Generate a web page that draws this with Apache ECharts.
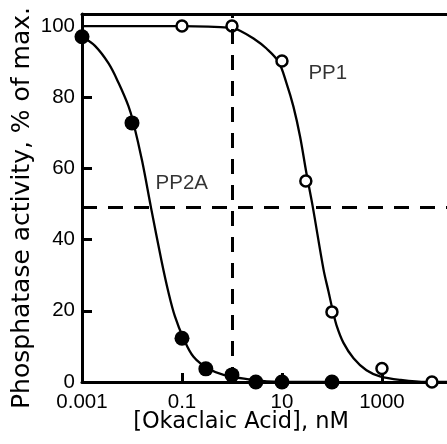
<!DOCTYPE html>
<html>
<head>
<meta charset="utf-8">
<script src="https://cdn.jsdelivr.net/npm/echarts@6/dist/echarts.min.js"></script>
<style>html,body{margin:0;padding:0;background:#fff}#c{width:447px;height:444px}</style>
</head>
<body>
<div id="c"></div>
<script>
// Measured points
const pp2aConc = [0.001, 0.01, 0.1, 0.3, 1, 3, 10, 100];
const pp2aAct  = [97, 72.8, 12.3, 3.7, 2.0, 0, 0, 0];
const pp1Conc  = [0.1, 1, 10, 30, 100, 1000, 10000];
const pp1Act   = [100, 100, 90.2, 56.5, 19.7, 3.8, 0];
// Fitted curves
const pp2aFitConc = [0.001, 0.0018, 0.0034, 0.0054, 0.0085, 0.0107, 0.016, 0.024, 0.039, 0.054, 0.072, 0.107, 0.17, 0.34, 0.68, 2, 5, 20, 100];
const pp2aFitAct  = [97, 94.5, 89.5, 84, 77.5, 72.8, 62, 49, 34, 25, 18.5, 12.3, 7.1, 3.7, 2.0, 0.8, 0.2, 0, 0];
const pp1FitConc  = [0.001, 0.1, 1, 1.45, 2.7, 4.9, 8.5, 12.3, 17, 23, 31, 41, 68, 85, 102, 123, 170, 270, 490, 910, 2300, 7800, 20000];
const pp1FitAct   = [100, 100, 99.5, 98.7, 96.5, 93.7, 90, 84, 77.3, 69, 58.5, 49.5, 31.5, 25.5, 20.5, 16, 11, 6.7, 3.3, 1.6, 0.6, 0, 0];
// Reference lines
const halfActivity = 49;
const markConc = 1;
// Curve labels
const curveNames = ['PP2A', 'PP1'];
const curveNameConc = [0.029, 33];
const curveNameAct = [55.9, 86.7];
// Axis ticks
const xTickValues = [0.001, 0.1, 10, 1000];
const xTickLabels = ['0.001', '0.1', '10', '1000'];
const yTickValues = [0, 20, 40, 60, 80, 100];
const xTitle = '[Okaclaic Acid], nM';
const yTitle = 'Phosphatase activity, % of max.';

const zip = (a, b) => a.map((v, i) => [v, b[i]]);
const black = '#000';
const tickFont = {color: black, fontFamily: 'Liberation Sans', fontSize: 20.5};

const chart = echarts.init(document.getElementById('c'), null, {renderer: 'canvas'});
chart.setOption({
  animation: false,
  backgroundColor: '#fff',
  grid: {left: 82, right: 0, top: 14, bottom: 62},
  xAxis: [{
    type: 'log', logBase: 10, min: 0.001, max: 20000, position: 'bottom',
    axisLine: {lineStyle: {color: black, width: 3}},
    axisTick: {inside: true, length: 9, lineStyle: {color: black, width: 3}, customValues: [0.1, 10, 1000]},
    axisLabel: Object.assign({}, tickFont, {margin: 10, customValues: xTickValues,
      formatter: v => { const i = xTickValues.findIndex(t => Math.abs(Math.log10(t) - Math.log10(v)) < 1e-6); return i >= 0 ? xTickLabels[i] : ''; }}),
    splitLine: {show: false}, minorTick: {show: false}, minorSplitLine: {show: false}
  }, {
    type: 'log', logBase: 10, min: 0.001, max: 20000, position: 'top',
    axisLine: {lineStyle: {color: black, width: 3}},
    axisTick: {show: false}, axisLabel: {show: false}, splitLine: {show: false}
  }],
  yAxis: {
    type: 'value', min: 0, max: 103.4,
    axisLine: {show: true, lineStyle: {color: black, width: 3}},
    axisTick: {show: true, inside: true, length: 10, lineStyle: {color: black, width: 3}, customValues: [20, 40, 60, 80]},
    axisLabel: Object.assign({}, tickFont, {margin: 7, customValues: yTickValues}),
    splitLine: {show: false}
  },
  graphic: [
    {type: 'text', x: 241, y: 422, style: {text: xTitle, fill: black, font: '22.5px "DejaVu Sans"', textAlign: 'center', textVerticalAlign: 'middle'}},
    {type: 'text', x: 22, y: 208, rotation: Math.PI / 2, style: {text: yTitle, fill: black, font: '25px "DejaVu Sans"', textAlign: 'center', textVerticalAlign: 'middle'}}
  ],
  series: [
    {type: 'line', data: zip(pp2aFitConc, pp2aFitAct), smooth: 0.35, showSymbol: false, symbol: 'none',
      lineStyle: {color: black, width: 2.3, opacity: 1}, z: 2, clip: false,
      markLine: {silent: true, symbol: 'none', label: {show: false},
        lineStyle: {color: black, width: 3, type: [15, 11], opacity: 1},
        data: [{yAxis: halfActivity}, {xAxis: markConc}]}},
    {type: 'line', data: zip(pp1FitConc, pp1FitAct), smooth: 0.35, showSymbol: false, symbol: 'none',
      lineStyle: {color: black, width: 2.3, opacity: 1}, z: 2, clip: false},
    {type: 'scatter', data: zip(pp2aConc, pp2aAct), symbol: 'circle', symbolSize: 15, clip: false,
      itemStyle: {color: black, opacity: 1}, z: 4},
    {type: 'scatter', data: zip(pp1Conc, pp1Act), symbol: 'circle', symbolSize: 11, clip: false,
      itemStyle: {color: '#fff', borderColor: black, borderWidth: 2.5, opacity: 1}, z: 4},
    {type: 'scatter', data: curveNames.map((n, i) => [curveNameConc[i], curveNameAct[i], n]), symbolSize: 1,
      itemStyle: {color: 'rgba(0,0,0,0)'}, clip: false, z: 5,
      label: {show: true, position: 'right', distance: 0, formatter: p => p.data[2], color: black, fontFamily: 'Liberation Sans', fontSize: 20.5}}
  ]
});
</script>
</body>
</html>
